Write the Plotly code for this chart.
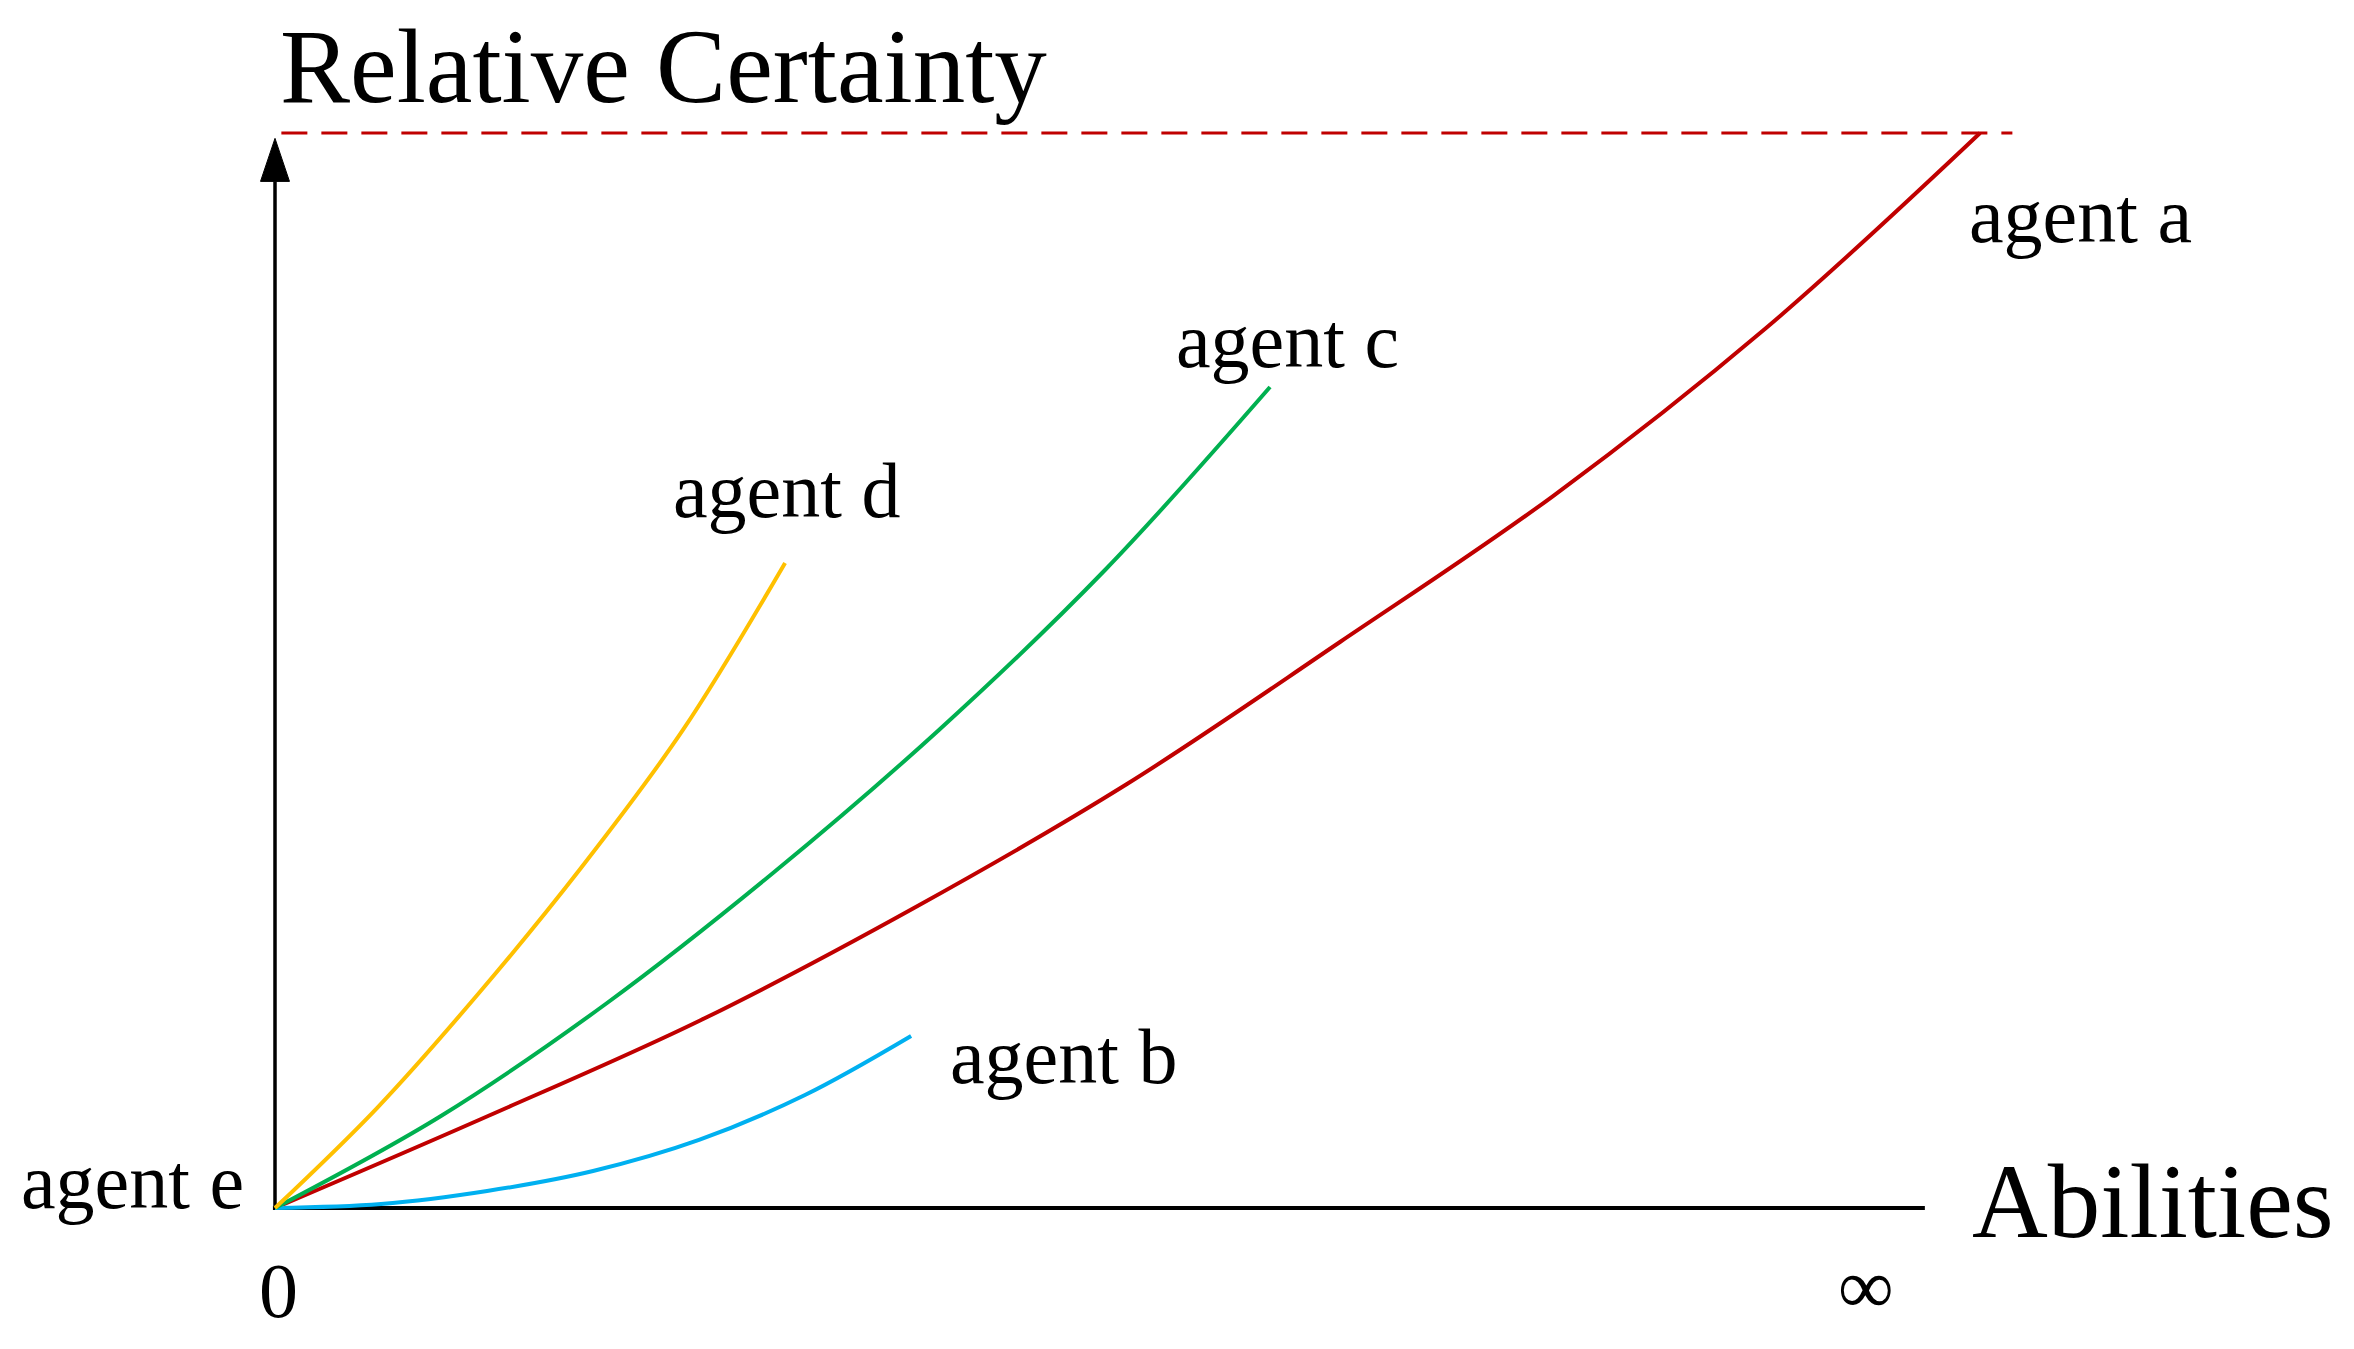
import plotly.graph_objects as go

# abilities: 0 at the origin, 1 at the "∞" mark; certainty: 1 at the dashed ceiling
abilities_a = [0, 0.1339, 0.2678, 0.4016, 0.5355, 0.6694, 0.8033, 0.9372, 1.0717]
certainty_a = [0, 0.0856, 0.1749, 0.2791, 0.3944, 0.5265, 0.6623, 0.8186, 1.0]

abilities_b = [0, 0.0666, 0.1333, 0.1999, 0.2665, 0.3331, 0.3998]
certainty_b = [0, 0.0037, 0.0158, 0.0344, 0.0633, 0.1051, 0.1600]

abilities_c = [0, 0.1043, 0.2087, 0.3130, 0.4173, 0.5217, 0.6254]
certainty_c = [0, 0.0856, 0.1907, 0.3116, 0.4447, 0.5935, 0.7637]

abilities_d = [0, 0.0641, 0.1282, 0.1923, 0.2564, 0.3206]
certainty_d = [0, 0.0930, 0.2000, 0.3163, 0.4447, 0.6000]

ceiling_x = [0.004, 1.092]
ceiling_y = [1.0, 1.0]

agents = [
    ("agent a", abilities_a, certainty_a, "#C00000"),
    ("agent b", abilities_b, certainty_b, "#00B0F0"),
    ("agent c", abilities_c, certainty_c, "#00B050"),
    ("agent d", abilities_d, certainty_d, "#FFC000"),
]

SERIF = "Liberation Serif, Times New Roman, serif"

fig = go.Figure()

fig.add_trace(go.Scatter(x=ceiling_x, y=ceiling_y, mode="lines",
                         line=dict(color="#C00000", width=3, dash="26px,14px"),
                         hoverinfo="skip", showlegend=False))

for name, xs, ys, colour in agents:
    fig.add_trace(go.Scatter(x=xs, y=ys, mode="lines", name=name,
                             line=dict(color=colour, width=4, shape="spline", smoothing=1.0),
                             showlegend=False, cliponaxis=False))

# axes drawn by hand: x axis line, y axis line with an arrow head
x_axis_end = 1.037
y_axis_top = 0.955
head_tip = 0.995
head_half = 0.0091
fig.add_shape(type="line", x0=-0.0013, y0=0, x1=x_axis_end, y1=0,
              line=dict(color="black", width=4), layer="below")
fig.add_shape(type="line", x0=0, y0=0, x1=0, y1=y_axis_top,
              line=dict(color="black", width=3.5), layer="below")
fig.add_shape(type="path",
              path=f"M {-head_half},{y_axis_top} L 0,{head_tip} L {head_half},{y_axis_top} Z",
              fillcolor="black", line=dict(color="black", width=1))

labels = [
    ("Relative Certainty", 0.002, 1.0623, "left", 105),
    ("Abilities", 1.0654, 0.0065, "left", 105),
    ("agent a", 1.0635, 0.9228, "left", 78),
    ("agent b", 0.423, 0.1414, "left", 78),
    ("agent c", 0.565, 0.8074, "left", 78),
    ("agent d", 0.2489, 0.667, "left", 78),
    ("agent e", -0.0182, 0.0251, "right", 78),
    ("0", 0.0019, -0.0763, "center", 78),
    ("∞", 1.0, -0.0726, "center", 78),
]
for text, x, y, anchor, size in labels:
    fig.add_annotation(x=x, y=y, text=text, showarrow=False,
                       xanchor=anchor, yanchor="middle",
                       font=dict(family=SERIF, size=size, color="black"))

# ranges account for the 8px page margin around the plot div
fig.update_xaxes(range=[-0.16782, 1.31175], visible=False)
fig.update_yaxes(range=[-0.13860, 1.11628], visible=False)
fig.update_layout(width=2354, height=1349,
                  margin=dict(l=0, r=0, t=0, b=0),
                  plot_bgcolor="white", paper_bgcolor="white")

fig.write_html("out.html")
